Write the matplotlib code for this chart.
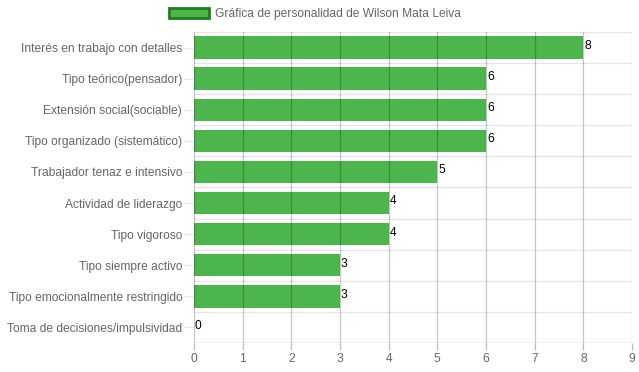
import matplotlib.pyplot as plt
from matplotlib.patches import Patch

# datos del gráfico
categorias = [
    'Interés en trabajo con detalles',
    'Tipo teórico(pensador)',
    'Extensión social(sociable)',
    'Tipo organizado (sistemático)',
    'Trabajador tenaz e intensivo',
    'Actividad de liderazgo',
    'Tipo vigoroso',
    'Tipo siempre activo',
    'Tipo emocionalmente restringido',
    'Toma de decisiones/impulsividad',
]
valores = [8, 6, 6, 6, 5, 4, 4, 3, 3, 0]
ticks_x = list(range(0, 10))
titulo_leyenda = 'Gráfica de personalidad de Wilson Mata Leiva'

plt.rcParams['font.family'] = ['Liberation Sans', 'DejaVu Sans']
fs = 8.65

fig = plt.figure(figsize=(6.39, 3.72), dpi=100)
ax = fig.add_axes([194 / 639, 1 - 343 / 372, (632 - 194) / 639, (343 - 32) / 372])

verde = '#4cb54c'
pos = list(range(len(categorias)))
ax.barh(pos, valores, height=0.72, color=verde, zorder=2)

for p, v in zip(pos, valores):
    ax.text(v + 0.02, p - 0.05, str(v), ha='left', va='center', fontsize=fs, color='black', zorder=4)

ax.set_xlim(0, 9)
ax.set_ylim(len(categorias) - 0.5, -0.5)
ax.set_xticks(ticks_x)
ax.set_yticks(pos)
ax.set_yticklabels(categorias)

# rejilla: verticales más oscuras, horizontales en los límites de categoría
for x in ticks_x:
    ax.axvline(x, color='#000000', alpha=0.22, lw=0.9, zorder=3)
for b in range(len(categorias) + 1):
    ax.axhline(b - 0.5, color='#e6e6e6', lw=0.9, zorder=1)

for s in ax.spines.values():
    s.set_visible(False)
ax.axhline(len(categorias) - 0.5, color='#b0b0b0', lw=0.9, zorder=3)

ax.tick_params(axis='x', length=5, width=0.9, color='#bbbbbb', labelcolor='#666666', labelsize=fs, pad=2)
ax.tick_params(axis='y', length=7.5, width=0.9, color='#e6e6e6', labelcolor='#666666', labelsize=fs, pad=1)

leg = fig.legend(handles=[Patch(facecolor=verde, edgecolor='#1e7d1e', linewidth=2, label=titulo_leyenda)],
                 loc='center', bbox_to_anchor=(0.493, 1 - 14 / 372), frameon=False, fontsize=fs,
                 handlelength=3.4, handleheight=0.9, handletextpad=0.5, labelcolor='#666666')

fig.savefig('out.png', dpi=100)
